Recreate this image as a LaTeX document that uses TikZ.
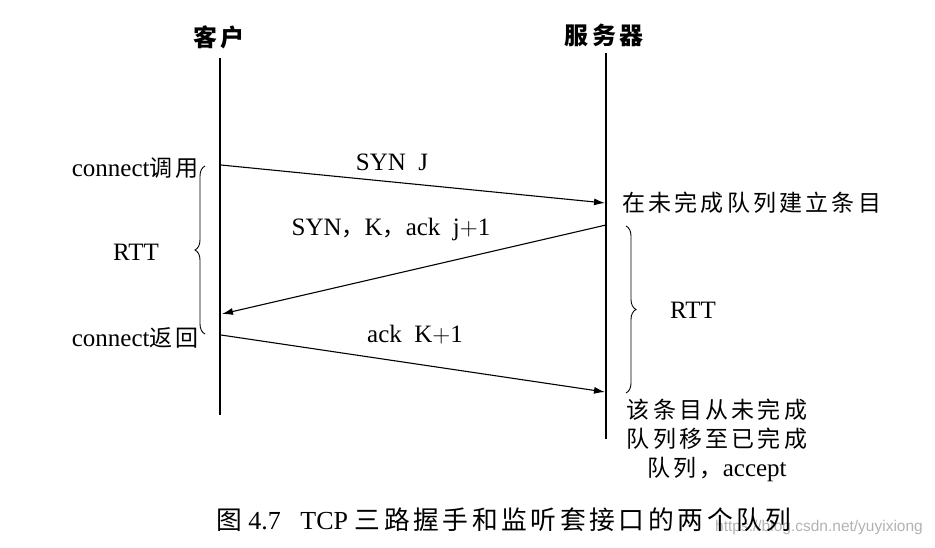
\documentclass[tikz,border=0pt]{standalone}
\usepackage{fontspec}
\setmainfont{Liberation Serif}
\newfontfamily\cjk[LetterSpace=14,Scale=0.92]{Noto Sans CJK SC}
\newfontfamily\wmfont{Liberation Sans}
\usetikzlibrary{arrows.meta}
\usetikzlibrary{decorations.pathreplacing}

\newcommand\zh[1]{{\cjk #1}}

\begin{document}
\begin{tikzpicture}[x=1pt,y=-1pt,
	life/.style={line width=1.2pt},
	msg/.style={-{Latex[length=11pt,width=7pt]},line width=1.1pt},
	txt/.style={inner sep=0pt,font=\fontsize{25}{29}\selectfont},
	rttbrace/.style={decorate,decoration={brace,amplitude=10pt},line width=0.9pt}]
\useasboundingbox (0,0) rectangle (935,548);

% host names
\node[txt,font=\fontsize{26}{28}\selectfont\cjk\bfseries] (client) at (219,37) {客户};
\node[txt,font=\fontsize{26}{28}\selectfont\cjk\bfseries] (server) at (604,35) {服务器};

% time lines
\coordinate (c-top) at (220,58);
\coordinate (c-bot) at (220,415);
\coordinate (s-top) at (606,53);
\coordinate (s-bot) at (606,439);
\draw[life] (c-top) -- (c-bot);
\draw[life] (s-top) -- (s-bot);

% segments
\coordinate (c1) at (221,165);
\coordinate (s1) at (605,203);
\coordinate (s2) at (606,225);
\coordinate (c2) at (222,314);
\coordinate (c3) at (221,335);
\coordinate (s3) at (605,392);
\draw[msg] (c1) -- (s1);
\draw[msg] (s2) -- (c2);
\draw[msg] (c3) -- (s3);

\node[txt] (syn) at (392,162) {SYN\ \ J};
\node[txt] (synack) at (391,229) {SYN\zh{，}K\zh{，}ack\ \ j$+$1};
\node[txt] (ack) at (415,335) {ack\ \ K$+$1};

% client side
\node[txt,anchor=east] (call) at (199,168) {connect\zh{调用}};
\node[txt,anchor=east] (ret) at (199,338) {connect\zh{返回}};
\coordinate (lb-bot) at (205,334);
\coordinate (lb-top) at (205,166);
\draw[rttbrace] (lb-bot) -- (lb-top);
\node[txt] (rtt1) at (136,252) {RTT};

% server side
\node[txt,anchor=west] (syn-q) at (622,203) {\zh{在未完成队列建立条目}};
\coordinate (rb-top) at (626,226);
\coordinate (rb-bot) at (626,393);
\draw[rttbrace] (rb-top) -- (rb-bot);
\node[txt] (rtt2) at (693,310) {RTT};
\node[txt,align=center] (acc-q) at (717,440)
	{\zh{该条目从未完成}\\\zh{队列移至已完成}\\\zh{队列，}accept};

% caption (watermark first, so the caption lies on top)
\node[inner sep=0pt,font=\fontsize{15.5}{18}\selectfont\wmfont,text=black!30,anchor=west] (wm) at (715,527) {https://blog.csdn.net/yuyixiong};
\node[txt,anchor=west,font=\fontsize{26}{30}\selectfont] (cap) at (216,520)
	{{\fontsize{28}{30}\selectfont\zh{图}} 4.7\ \ \ TCP {\fontsize{28}{30}\selectfont\zh{三路握手和监听套接口的两个队列}}};
\end{tikzpicture}
\end{document}
